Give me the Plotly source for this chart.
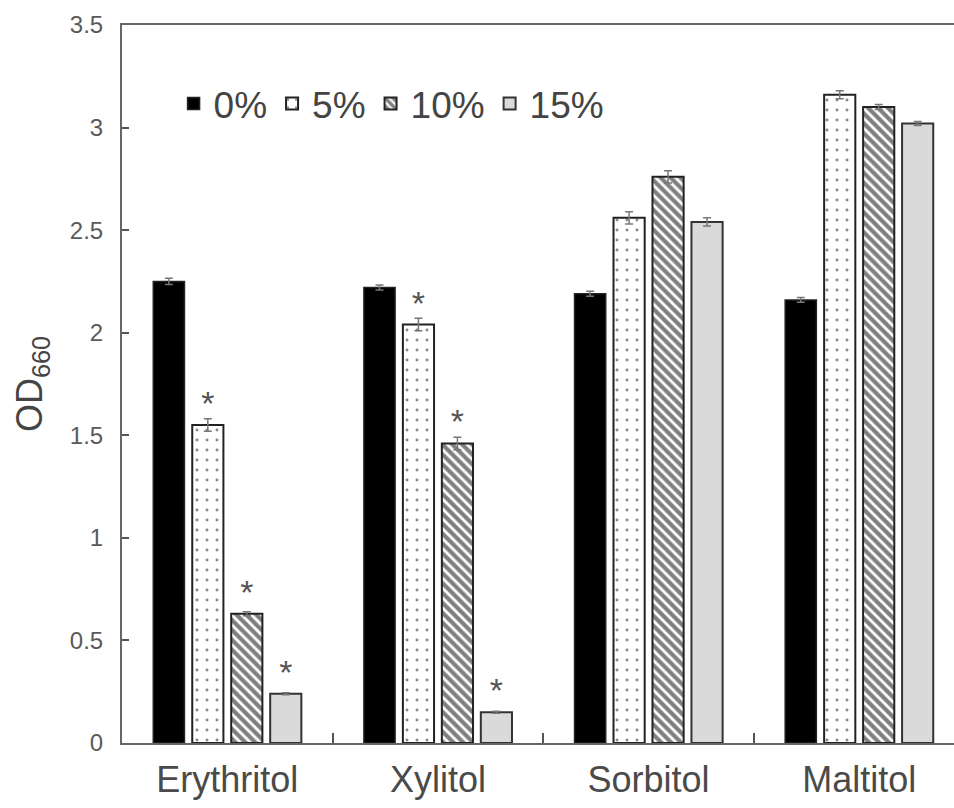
import plotly.graph_objects as go

# Sugar alcohols tested and concentrations
categories = ["Erythritol", "Xylitol", "Sorbitol", "Maltitol"]
series_names = ["0%", "5%", "10%", "15%"]

# OD660 means per concentration (one value per sugar alcohol)
od_0 = [2.25, 2.22, 2.19, 2.16]
od_5 = [1.55, 2.04, 2.56, 3.16]
od_10 = [0.63, 1.46, 2.76, 3.10]
od_15 = [0.24, 0.15, 2.54, 3.02]

# standard errors
err_0 = [0.015, 0.012, 0.012, 0.012]
err_5 = [0.03, 0.03, 0.03, 0.02]
err_10 = [0.01, 0.03, 0.03, 0.012]
err_15 = [0.005, 0.005, 0.02, 0.01]

# significance markers
sig_0 = ["", "", "", ""]
sig_5 = ["*", "*", "", ""]
sig_10 = ["*", "*", "", ""]
sig_15 = ["*", "*", "", ""]

values = [od_0, od_5, od_10, od_15]
errors = [err_0, err_5, err_10, err_15]
sigs = [sig_0, sig_5, sig_10, sig_15]

styles = [
    dict(color="black", line=dict(color="#222", width=1.5)),
    dict(color="white", line=dict(color="#222", width=2),
         pattern=dict(shape=".", fgcolor="#111", bgcolor="white", size=10, solidity=0.07)),
    dict(color="white", line=dict(color="#222", width=2),
         pattern=dict(shape="\\", fgcolor="#000", bgcolor="white", size=7, solidity=0.6)),
    dict(color="#dadada", line=dict(color="#333", width=2)),
]

font_family = "Liberation Sans, Arial, sans-serif"

fig = go.Figure()
for name, v, e, s, st in zip(series_names, values, errors, sigs, styles):
    fig.add_trace(go.Bar(
        name=name,
        x=categories,
        y=v,
        marker=st,
        error_y=dict(type="data", array=e, color="#777", thickness=1.5, width=4),
        text=s,
        textposition="outside",
        textfont=dict(family=font_family, size=34, color="#555"),
        cliponaxis=False,
    ))

fig.update_layout(
    width=954,
    height=808,
    margin=dict(l=122, r=0, t=25, b=65),
    paper_bgcolor="white",
    plot_bgcolor="white",
    barmode="group",
    bargap=0.26,
    bargroupgap=0.2,
    font=dict(family=font_family, color="#555"),
    showlegend=True,
    legend=dict(
        orientation="h",
        x=0.062, y=0.89,
        xanchor="left", yanchor="middle",
        font=dict(size=37, color="#444"),
        bgcolor="rgba(0,0,0,0)",
        itemwidth=30,
        traceorder="normal",
    ),
    xaxis=dict(
        range=[-0.5, 3.45],
        showline=True, linecolor="#666", linewidth=2,
        mirror=True,
        ticks="inside", ticklen=10, tickcolor="#555", tickwidth=1.5,
        tickson="boundaries",
        tickfont=dict(size=36, color="#4a4a4a"),
        ticklabelstandoff=4,
        showgrid=False,
        zeroline=False,
        automargin=False,
    ),
    yaxis=dict(
        range=[0, 3.5],
        dtick=0.5,
        showline=True, linecolor="#666", linewidth=2,
        ticks="inside", ticklen=7, tickcolor="#555", tickwidth=1.5,
        tickfont=dict(size=24, color="#5a5a5a"),
        ticklabelstandoff=12,
        showgrid=False,
        zeroline=False,
        automargin=False,
        title=dict(text="OD<sub>660</sub>", font=dict(size=36, color="#444"), standoff=16),
    ),
)

fig.write_html("out.html")
